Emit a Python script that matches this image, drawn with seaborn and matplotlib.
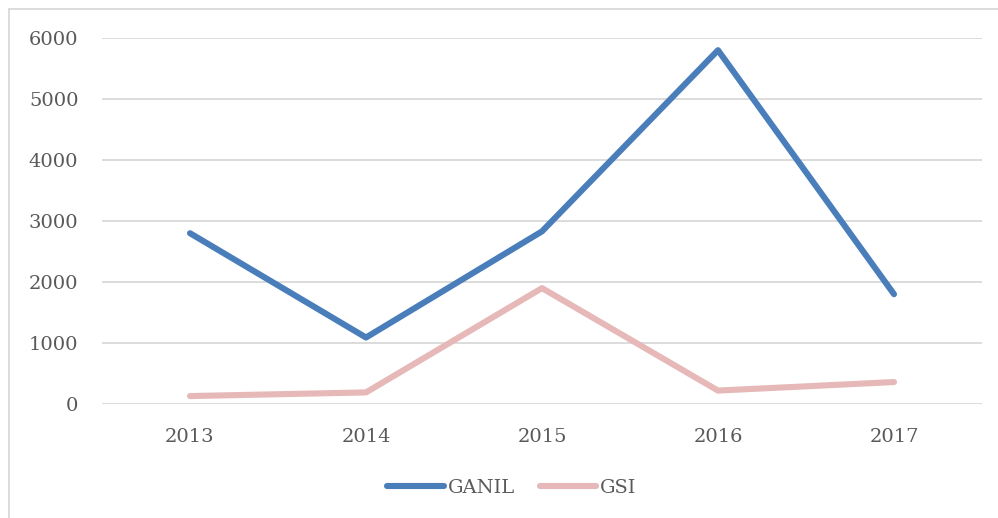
import pandas as pd
import seaborn as sns
import matplotlib.pyplot as plt
from matplotlib.lines import Line2D

years = ["2013", "2014", "2015", "2016", "2017"]
ganil = [2800, 1090, 2830, 5800, 1800]
gsi = [130, 190, 1900, 220, 360]

df = pd.DataFrame({"Year": years * 2,
                   "Value": ganil + gsi,
                   "Lab": ["GANIL"] * 5 + ["GSI"] * 5})

sns.set_style("white")
plt.rcParams["font.family"] = ["DejaVu Serif"]

fig = plt.figure(figsize=(9.98, 5.18), dpi=100)
ax = fig.add_axes([102 / 998, 114 / 518, 880 / 998, 366 / 518])

palette = {"GANIL": "#4A7EBB", "GSI": "#E6B9B8"}
sns.lineplot(data=df, x="Year", y="Value", hue="Lab", palette=palette,
             linewidth=4.4, ax=ax, sort=False, legend=False,
             solid_capstyle="round")

ax.set_xlim(-0.5, 4.5)
ax.set_ylim(0, 6000)
ax.set_yticks(range(0, 7000, 1000))
ax.grid(axis="y", color="#D9D9D9", linewidth=1.3)
ax.set_axisbelow(True)
for s in ax.spines.values():
    s.set_visible(False)
ax.set_xlabel("")
ax.set_ylabel("")
ax.tick_params(axis="both", length=0, labelsize=14, labelcolor="#595959")
ax.tick_params(axis="y", pad=17)
ax.tick_params(axis="x", pad=17)

handles = [Line2D([], [], color=palette[k], linewidth=4.4, solid_capstyle="round")
           for k in ["GANIL", "GSI"]]
fig.legend(handles, ["GANIL", "GSI"], loc="center", bbox_to_anchor=(0.513, 0.058),
           ncol=2, frameon=False, fontsize=14, labelcolor="#595959",
           handlelength=2.9, handletextpad=0.2, columnspacing=1.3)

# outer chart border (left and top visible)
fig.add_artist(Line2D([9 / 998, 9 / 998], [0, 1 - 9 / 518], color="#D9D9D9",
                      linewidth=1.3, transform=fig.transFigure))
fig.add_artist(Line2D([9 / 998, 1], [1 - 9 / 518, 1 - 9 / 518], color="#D9D9D9",
                      linewidth=1.3, transform=fig.transFigure))

fig.savefig("out.png", dpi=100)
